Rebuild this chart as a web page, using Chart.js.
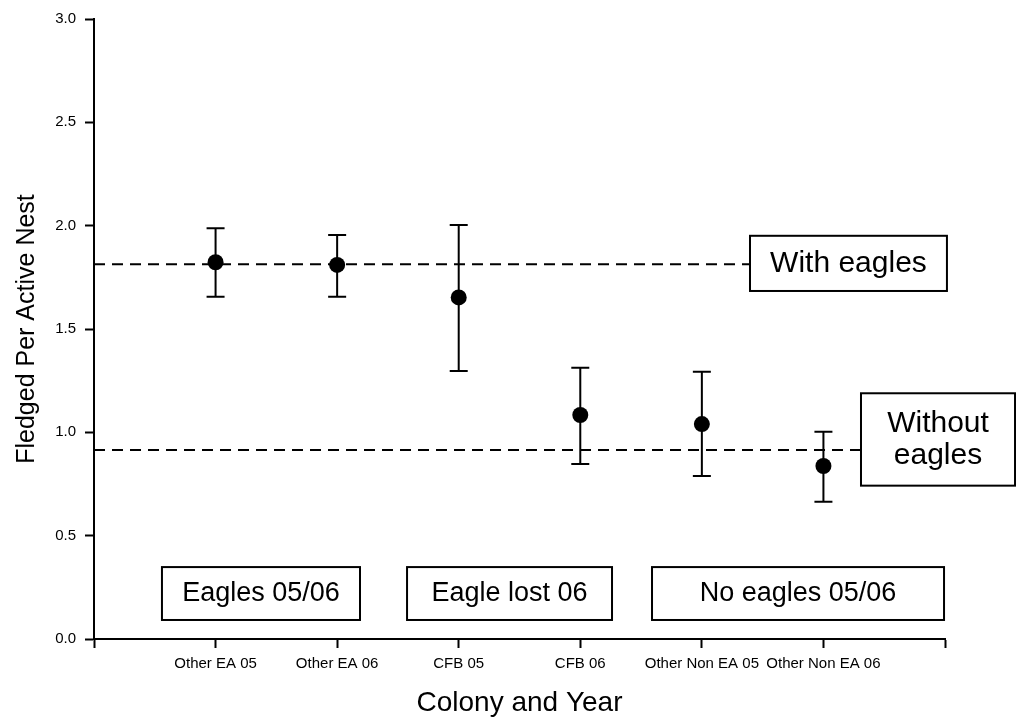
<!DOCTYPE html>
<html><head><meta charset="utf-8">
<script src="https://cdn.jsdelivr.net/npm/chart.js@4/dist/chart.umd.min.js"></script>
<style>html,body{margin:0;padding:0;background:#fff}canvas{display:block}</style>
</head><body>
<canvas id="c" width="1016" height="722"></canvas>
<script>
// ---- data ----
const categories = ["Other EA 05","Other EA 06","CFB 05","CFB 06","Other Non EA 05","Other Non EA 06"];
const meanValues = [1.823, 1.810, 1.653, 1.084, 1.040, 0.837];
const errLow     = [1.656, 1.656, 1.297, 0.847, 0.789, 0.664];
const errHigh    = [1.987, 1.955, 2.003, 1.313, 1.293, 1.003];
const yTickValues = [0, 0.5, 1.0, 1.5, 2.0, 2.5, 3.0];
const refValues  = [1.813, 0.9145];              // "With eagles", "Without eagles"
const refLabels  = [["With eagles"], ["Without", "eagles"]];
const groupLabels = ["Eagles 05/06", "Eagle lost 06", "No eagles 05/06"];

// ---- layout (data units on the chart's scales) ----
const refLineEnd = [5.396, 6.309];
const refBoxes = [
  {x0: 5.396, x1: 7.016, y0: 1.684, y1: 1.951},
  {x0: 6.309, x1: 7.576, y0: 0.742, y1: 1.189}
];
const groupBoxes = [
  {x0: 0.559, x1: 2.188, y0: 0.092, y1: 0.348},
  {x0: 2.575, x1: 4.261, y0: 0.092, y1: 0.348},
  {x0: 4.590, x1: 6.992, y0: 0.092, y1: 0.348}
];

const FONT = "'Liberation Sans', Arial, Helvetica, sans-serif";

const points = categories.map((c, i) => ({x: i + 1, y: meanValues[i]}));

const errorBars = {
  id: 'errorBars',
  beforeDatasetsDraw(chart) {
    const {ctx, scales: {x, y}} = chart;
    ctx.save();
    ctx.strokeStyle = '#000';
    ctx.lineWidth = 2;
    categories.forEach((c, i) => {
      const px = x.getPixelForValue(i + 1);
      const pl = y.getPixelForValue(errLow[i]);
      const ph = y.getPixelForValue(errHigh[i]);
      ctx.beginPath();
      ctx.moveTo(px, pl); ctx.lineTo(px, ph);
      ctx.moveTo(px - 9, pl); ctx.lineTo(px + 9, pl);
      ctx.moveTo(px - 9, ph); ctx.lineTo(px + 9, ph);
      ctx.stroke();
    });
    ctx.restore();
  }
};

function drawBox(ctx, x, y, b, lines, size) {
  const l = x.getPixelForValue(b.x0), r = x.getPixelForValue(b.x1);
  const t = y.getPixelForValue(b.y1), bt = y.getPixelForValue(b.y0);
  ctx.fillStyle = '#fff';
  ctx.fillRect(l, t, r - l, bt - t);
  ctx.strokeStyle = '#000';
  ctx.lineWidth = 2;
  ctx.strokeRect(l, t, r - l, bt - t);
  ctx.fillStyle = '#000';
  ctx.font = size + 'px ' + FONT;
  ctx.textAlign = 'center';
  ctx.textBaseline = 'middle';
  const lh = size * 1.06;
  const cx = (l + r) / 2, cy = (t + bt) / 2;
  lines.forEach((s, k) => {
    ctx.fillText(s, cx, cy + (k - (lines.length - 1) / 2) * lh);
  });
}

const boxes = {
  id: 'boxes',
  afterDraw(chart) {
    const {ctx, scales: {x, y}} = chart;
    ctx.save();
    refBoxes.forEach((b, i) => drawBox(ctx, x, y, b, refLabels[i], 30));
    groupBoxes.forEach((b, i) => drawBox(ctx, x, y, b, [groupLabels[i]], 27));
    ctx.restore();
  }
};

const refDatasets = refValues.map((v, i) => ({
  type: 'scatter',
  data: [{x: 0, y: v}, {x: refLineEnd[i], y: v}],
  showLine: true,
  borderColor: '#000',
  borderWidth: 2,
  borderDash: [11, 7],
  pointRadius: 0,
  fill: false
}));

new Chart(document.getElementById('c'), {
  type: 'scatter',
  data: {
    datasets: [
      ...refDatasets,
      {
        data: points,
        pointRadius: 8,
        pointBackgroundColor: '#000',
        pointBorderColor: '#000',
        pointBorderWidth: 0
      }
    ]
  },
  options: {
    responsive: false,
    animation: false,
    devicePixelRatio: 1,
    layout: {padding: {top: 19, right: 71, left: 0, bottom: 0}},
    plugins: {legend: {display: false}, tooltip: {enabled: false}},
    scales: {
      x: {
        type: 'linear', min: 0, max: 7,
        afterFit(s) { s.height = 83; },
        afterBuildTicks(s) { s.ticks = [0,1,2,3,4,5,6,7].map(v => ({value: v})); },
        ticks: {
          autoSkip: false, maxRotation: 0, minRotation: 0, padding: 7,
          color: '#000',
          font: {family: FONT, size: 15},
          callback: (v) => (v >= 1 && v <= categories.length) ? categories[v - 1] : ''
        },
        grid: {drawOnChartArea: false, drawTicks: true, tickLength: 9, tickWidth: 2, tickColor: '#000'},
        border: {display: true, color: '#000', width: 2},
        title: {display: true, text: 'Colony and Year', color: '#000',
                font: {family: FONT, size: 28}, padding: {top: 0, bottom: 2}}
      },
      y: {
        min: 0, max: 3,
        afterFit(s) { s.width = 94; },
        afterBuildTicks(s) { s.ticks = yTickValues.map(v => ({value: v})); },
        ticks: {
          padding: 9, color: '#000',
          font: {family: FONT, size: 15},
          callback: (v) => Number(v).toFixed(1)
        },
        grid: {drawOnChartArea: false, drawTicks: true, tickLength: 9, tickWidth: 2, tickColor: '#000'},
        border: {display: true, color: '#000', width: 2},
        title: {display: true, text: 'Fledged Per Active Nest', color: '#000',
                font: {family: FONT, size: 25}, padding: {top: 12, bottom: 0}}
      }
    }
  },
  plugins: [errorBars, boxes]
});
</script>
</body></html>
